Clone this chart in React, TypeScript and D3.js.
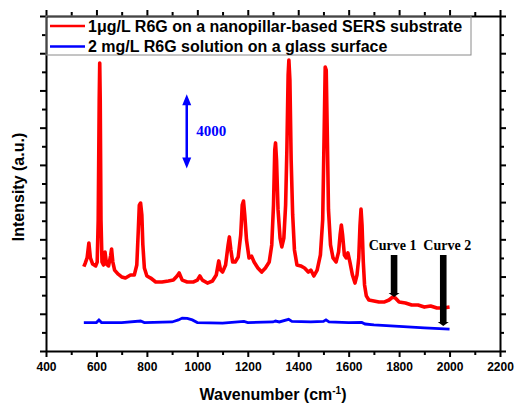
import { useEffect, useRef } from 'react';
import * as d3 from 'd3';

// Curve 1: 1 ug/L R6G on SERS substrate
const sersWavenumber = [
  550, 556, 563, 570, 576, 585, 597, 603, 607, 611, 613, 615, 618, 622, 628, 634, 640, 648, 656, 660,
  665, 672, 685, 700, 715, 735, 750, 760, 766, 770, 775, 780, 784, 790, 800, 815, 835, 860, 885, 905,
  920, 928, 940, 960, 985, 1000, 1010, 1020, 1040, 1060, 1075, 1085, 1092, 1100, 1112, 1122, 1127, 1133,
  1140, 1150, 1162, 1172, 1178, 1183, 1188, 1195, 1205, 1215, 1225, 1240, 1255, 1270, 1285, 1295, 1302,
  1307, 1310, 1314, 1320, 1328, 1335, 1343, 1350, 1355, 1360, 1363, 1367, 1372, 1378, 1385, 1395, 1410,
  1425, 1440, 1450, 1462, 1475, 1488, 1497, 1503, 1507, 1511, 1515, 1520, 1528, 1538, 1550, 1560, 1566,
  1571, 1576, 1583, 1590, 1597, 1605, 1615, 1625, 1633, 1640, 1645, 1649, 1653, 1658, 1663, 1670, 1680,
  1700, 1720, 1740, 1760, 1775, 1785, 1800, 1825, 1850, 1875, 1900, 1925, 1950, 1975, 2000,
];
const sersIntensity = [
  4530, 4730, 5000, 5800, 5000, 4670, 4570, 4780, 7040, 13490, 15470, 13490, 7040, 4780, 4620, 5320, 4670, 4570, 5100, 5480,
  4780, 4350, 4140, 3980, 3920, 4080, 4080, 4620, 6500, 7840, 7950, 7310, 5700, 4460, 4030, 3920, 3710, 3710, 3760, 3810,
  4030, 4190, 3810, 3710, 3710, 3810, 4030, 3810, 3650, 3760, 4080, 4840, 4350, 4240, 4620, 5700, 6130, 5430,
  4780, 4780, 5050, 6230, 7840, 8060, 7310, 5960, 5000, 5100, 4780, 4460, 4240, 4460, 4780, 5700, 7840,
  10800, 11180, 10260, 7580, 6070, 5590, 6070, 7840, 10800, 14830, 15630, 14560, 10260, 7310, 5430, 4620, 4570,
  4460, 4240, 4350, 4030, 4350, 5160, 7040, 11870, 15260, 15100, 11870, 7580, 5700, 5000, 4780, 5320, 6230,
  6770, 6230, 5160, 5000, 5270, 4780, 4080, 3650, 4080, 5000, 6770, 7630, 6770, 4780, 3550, 2960, 2740,
  2690, 2630, 2630, 2740, 2900, 2850, 2630, 2580, 2470, 2470, 2360, 2420, 2310, 2310, 2360,
];

// Curve 2: 2 mg/L R6G on glass
const glassWavenumber = [
  550, 600, 610, 620, 700, 775, 790, 900, 925, 940, 960, 980, 1000, 1100, 1185, 1200, 1300, 1310, 1325,
  1362, 1375, 1450, 1500, 1510, 1522, 1600, 1652, 1665, 1700, 1800, 1900, 2000,
];
const glassIntensity = [
  1520, 1530, 1670, 1530, 1530, 1610, 1530, 1560, 1670, 1770, 1750, 1670, 1530, 1500, 1590, 1530, 1560, 1610, 1560,
  1700, 1590, 1560, 1590, 1670, 1560, 1520, 1530, 1450, 1400, 1320, 1240, 1170,
];

const legendLabels = ['1\u03bcg/L R6G on a nanopillar-based SERS substrate', '2 mg/L R6G solution on a glass surface'];
const curveColors = ['#ff0000', '#0000ff'];

const xTickValues = [400, 600, 800, 1000, 1200, 1400, 1600, 1800, 2000, 2200];
const xMinorTicks = [500, 700, 900, 1100, 1300, 1500, 1700, 1900, 2100];
const yTickValues = [0, 2000, 4000, 6000, 8000, 10000, 12000, 14000, 16000, 18000];
const yMinorTicks = [1000, 3000, 5000, 7000, 9000, 11000, 13000, 15000, 17000];

// annotations: arrow positions in data units
const curveArrowLabels = ['Curve 1', 'Curve 2'];
const curveArrowX = [1780, 1975];
const curveArrowTips = [2900, 1350];
const scaleBarX = 958;
const scaleBarRange = [9800, 13800];

function App() {
  const svgRef = useRef(null);
  const width = 516;
  const height = 405;

  useEffect(() => {
    d3.select(svgRef.current).selectAll('*').remove();
    const svg = d3.select(svgRef.current);
    const m = { top: 16, right: 16, bottom: 54, left: 46 };
    const x = d3.scaleLinear().domain([400, 2200]).range([m.left, width - m.right]);
    const y = d3.scaleLinear().domain([0, 18000]).range([height - m.bottom, m.top]);
    const font = '"Liberation Sans", Arial, sans-serif';
    const serif = '"Liberation Serif", "Times New Roman", serif';

    const axes = [
      { gen: d3.axisBottom, tr: `translate(0,${height - m.bottom})`, sc: x, major: xTickValues, minor: xMinorTicks, labels: true },
      { gen: d3.axisTop, tr: `translate(0,${m.top})`, sc: x, major: xTickValues, minor: xMinorTicks, labels: false },
      { gen: d3.axisLeft, tr: `translate(${m.left},0)`, sc: y, major: yTickValues, minor: yMinorTicks, labels: false },
      { gen: d3.axisRight, tr: `translate(${width - m.right},0)`, sc: y, major: yTickValues, minor: yMinorTicks, labels: false },
    ];
    axes.forEach(a => {
      const g = svg
        .append('g')
        .attr('transform', a.tr)
        .call(
          a.gen(a.sc)
            .tickValues(a.major)
            .tickSize(6)
            .tickSizeOuter(0)
            .tickPadding(5)
            .tickFormat(a.labels ? d3.format('d') : () => ''),
        );
      g.select('.domain').attr('stroke-width', 2);
      g.selectAll('.tick line').attr('stroke-width', 2);
      g.selectAll('.tick text')
        .style('font-family', font)
        .style('font-weight', 'bold')
        .style('font-size', '12px')
        .attr('fill', '#000');
      const gm = svg
        .append('g')
        .attr('transform', a.tr)
        .call(a.gen(a.sc).tickValues(a.minor).tickSize(4).tickSizeOuter(0).tickFormat(() => ''));
      gm.select('.domain').remove();
      gm.selectAll('.tick line').attr('stroke-width', 2);
    });

    const line = d3
      .line()
      .x(d => x(d[0]))
      .y(d => y(d[1]));

    svg
      .append('path')
      .datum(glassWavenumber.map((w, i) => [w, glassIntensity[i]]))
      .attr('d', line)
      .attr('fill', 'none')
      .attr('stroke', curveColors[1])
      .attr('stroke-width', 2.8);

    svg
      .append('path')
      .datum(sersWavenumber.map((w, i) => [w, sersIntensity[i]]))
      .attr('d', line)
      .attr('fill', 'none')
      .attr('stroke', curveColors[0])
      .attr('stroke-width', 3.6)
      .attr('stroke-linejoin', 'round');

    // legend
    const legend = svg.append('g');
    legend
      .append('rect')
      .attr('x', m.left)
      .attr('y', m.top)
      .attr('width', 425)
      .attr('height', 39)
      .attr('fill', 'none')
      .attr('stroke', '#8a8a8a')
      .attr('stroke-width', 1);
    legendLabels.forEach((label, i) => {
      const ly = 26 + i * 20.5;
      legend
        .append('line')
        .attr('x1', 50)
        .attr('x2', 85)
        .attr('y1', ly)
        .attr('y2', ly)
        .attr('stroke', curveColors[i])
        .attr('stroke-width', 2.5);
      legend
        .append('text')
        .attr('x', 88)
        .attr('y', ly + 5.5)
        .style('font-family', font)
        .style('font-weight', 'bold')
        .style('font-size', '16px')
        .text(label);
    });

    // 4000 scale bar
    const sx = x(scaleBarX);
    const sTop = y(scaleBarRange[1]);
    const sBot = y(scaleBarRange[0]);
    svg
      .append('line')
      .attr('x1', sx)
      .attr('x2', sx)
      .attr('y1', sTop + 8)
      .attr('y2', sBot - 8)
      .attr('stroke', '#0000ff')
      .attr('stroke-width', 2.5);
    svg
      .append('path')
      .attr('d', `M${sx},${sTop} L${sx - 4.5},${sTop + 11} L${sx + 4.5},${sTop + 11} Z M${sx},${sBot} L${sx - 4.5},${sBot - 11} L${sx + 4.5},${sBot - 11} Z`)
      .attr('fill', '#0000ff');
    svg
      .append('text')
      .attr('x', sx + 9.5)
      .attr('y', (sTop + sBot) / 2 + 5)
      .style('font-family', serif)
      .style('font-weight', 'bold')
      .style('font-size', '15px')
      .attr('fill', '#0000ff')
      .text('4000');

    // curve arrows
    curveArrowLabels.forEach((label, i) => {
      const ax = x(curveArrowX[i]);
      const tip = y(curveArrowTips[i]);
      const top = 255;
      svg
        .append('path')
        .attr(
          'd',
          `M${ax - 3.3},${top} L${ax + 3.3},${top} L${ax + 3.3},${tip - 4} L${ax + 5.5},${tip - 4} L${ax},${tip} L${ax - 5.5},${tip - 4} L${ax - 3.3},${tip - 4} Z`,
        )
        .attr('fill', '#000');
      svg
        .append('text')
        .attr('x', i === 0 ? ax - 1.5 : ax + 4)
        .attr('y', 250)
        .attr('text-anchor', 'middle')
        .style('font-family', serif)
        .style('font-weight', 'bold')
        .style('font-size', '14px')
        .text(label);
    });

    // axis titles
    const xTitle = svg
      .append('text')
      .attr('x', x(1300))
      .attr('y', 400)
      .attr('text-anchor', 'middle')
      .style('font-family', font)
      .style('font-weight', 'bold')
      .style('font-size', '16px');
    xTitle.append('tspan').text('Wavenumber (cm');
    xTitle.append('tspan').attr('dy', -6).style('font-size', '10px').text('-1');
    xTitle.append('tspan').attr('dy', 6).text(')');

    svg
      .append('text')
      .attr('transform', `translate(24,${187}) rotate(-90)`)
      .attr('text-anchor', 'middle')
      .style('font-family', font)
      .style('font-weight', 'bold')
      .style('font-size', '16px')
      .text('Intensity (a.u.)');
  }, []);

  return (
    <svg
      ref={svgRef}
      width={width}
      height={height}
      style={{ position: 'absolute', left: 0, top: 0, background: '#fff' }}
    />
  );
}

export default App;
